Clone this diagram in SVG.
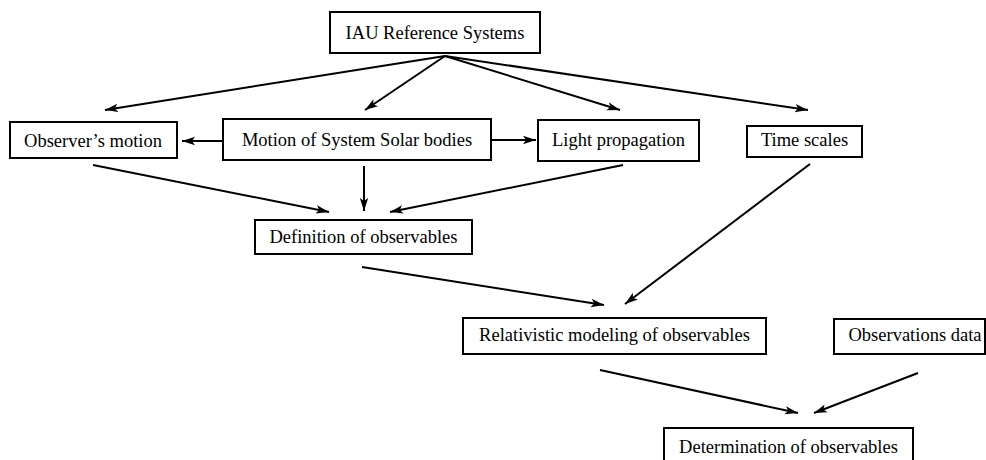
<svg xmlns="http://www.w3.org/2000/svg" width="986" height="460" viewBox="0 0 986 460">
<defs>
<style>
.box{fill:#fff;stroke:#000;stroke-width:2}
.lbl{font-family:"Liberation Serif","Times New Roman",serif;font-size:18.5px;fill:#000;text-anchor:middle}
.edge{stroke:#000;stroke-width:2;fill:none;marker-end:url(#ah)}
</style>
<marker id="ah" markerUnits="userSpaceOnUse" markerWidth="14" markerHeight="10" viewBox="0 0 14 10" refX="13" refY="5" orient="auto">
<path d="M0,0.8 L13,5 L0,9.2 L3,5 z" fill="#000"/>
</marker>
</defs>
<rect width="986" height="460" fill="#fff"/>
<g id="connectors">
<line class="edge" x1="445" y1="56" x2="105" y2="110"/>
<line class="edge" x1="445" y1="56" x2="365" y2="110"/>
<line class="edge" x1="445" y1="56" x2="620" y2="110"/>
<line class="edge" x1="445" y1="56" x2="808" y2="110"/>
<line class="edge" x1="223" y1="141" x2="182" y2="141"/>
<line class="edge" x1="492" y1="140" x2="536" y2="140"/>
<line class="edge" x1="93" y1="165" x2="329" y2="212"/>
<line class="edge" x1="364" y1="166" x2="364" y2="211"/>
<line class="edge" x1="623" y1="165" x2="390" y2="212"/>
<line class="edge" x1="810" y1="164" x2="625" y2="304"/>
<line class="edge" x1="362" y1="267" x2="604" y2="305"/>
<line class="edge" x1="600" y1="370" x2="798" y2="413"/>
<line class="edge" x1="918" y1="373" x2="814" y2="413"/>
</g>
<g id="iau"><rect class="box" x="330" y="12" width="210" height="41"/><text class="lbl" x="435" y="38.5">IAU Reference Systems</text></g>
<g id="observer"><rect class="box" x="10" y="122" width="167" height="36"/><text class="lbl" x="93" y="147">Observer’s motion</text></g>
<g id="motion"><rect class="box" x="223" y="119" width="268" height="41"/><text class="lbl" x="357" y="145.5">Motion of System Solar bodies</text></g>
<g id="light"><rect class="box" x="538" y="120" width="161" height="41"/><text class="lbl" x="618.5" y="146">Light propagation</text></g>
<g id="time"><rect class="box" x="747" y="126" width="115" height="31"/><text class="lbl" x="804.5" y="146">Time scales</text></g>
<g id="definition"><rect class="box" x="255" y="220" width="217" height="34"/><text class="lbl" x="363.5" y="243">Definition of observables</text></g>
<g id="relativistic"><rect class="box" x="463" y="318" width="303" height="36"/><text class="lbl" x="614.5" y="341">Relativistic modeling of observables</text></g>
<g id="observations"><rect class="box" x="834" y="319" width="151" height="35"/><text class="lbl" x="915" y="341">Observations data</text></g>
<g id="determination"><rect class="box" x="664" y="428" width="249" height="40"/><text class="lbl" x="788.5" y="453">Determination of observables</text></g>
</svg>
